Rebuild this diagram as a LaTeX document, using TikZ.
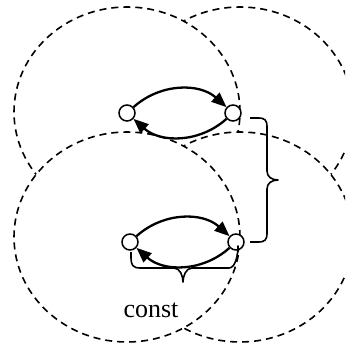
\documentclass[tikz,border=0pt]{standalone}
\usepackage{fontspec}
\setmainfont{Liberation Serif}
\usetikzlibrary{arrows.meta}
\begin{document}
\begin{tikzpicture}[x=1pt,y=-1pt,
  zone/.style={draw=black,fill=white,line width=1.6pt,dash pattern=on 7pt off 5pt},
  site/.style={circle,draw=black,fill=white,line width=1.5pt,minimum size=16pt,inner sep=0pt},
  flow/.style={line width=2.3pt,-{Triangle[length=15pt,width=12pt]}},
  curly/.style={line width=1.6pt,line join=round}]
\useasboundingbox (0,0) rectangle (345,347);
\clip (0,0) rectangle (345,347);
% overlapping dashed regions, back to front
\draw[zone] (240,112) ellipse [x radius=113pt, y radius=105pt];
\draw[zone] (127,112) ellipse [x radius=113pt, y radius=105pt];
\draw[zone] (240,237) ellipse [x radius=113pt, y radius=105pt];
\draw[zone] (127,237) ellipse [x radius=113pt, y radius=105pt];
% the two pairs of sites
\node[site] (tl) at (127,113) {};
\node[site] (tr) at (233,113) {};
\node[site] (bl) at (130,242) {};
\node[site] (br) at (236,242) {};
\draw[flow] (tl) to[bend left=42] (tr);
\draw[flow] (tr) to[bend left=42] (tl);
\draw[flow] (bl) to[bend left=42] (br);
\draw[flow] (br) to[bend left=42] (bl);
% right brace joining the two pairs
\coordinate (r1) at (250,118);
\coordinate (r2) at (250,242);
\coordinate (rt) at (278,180);
\draw[curly] (r1) -- ++(8,0) .. controls +(7,0) and +(0,-7) .. ++(9,9)
  -- (267,171) .. controls +(0,6) and +(-6,0) .. (rt)
  .. controls +(-6,0) and +(0,-6) .. (267,189)
  -- (267,233) .. controls +(0,7) and +(7,0) .. ([xshift=8pt]r2) -- (r2);
% lower brace under one pair
\coordinate (u1) at (131,252);
\coordinate (u2) at (238,252);
\coordinate (ut) at (183,282);
\draw[curly] (u1) -- ++(0,6) .. controls +(0,7) and +(-7,0) .. ++(9,10)
  -- (174,268) .. controls +(6,0) and +(0,-6) .. (ut)
  .. controls +(0,-6) and +(-6,0) .. (192,268)
  -- (229,268) .. controls +(7,0) and +(0,7) .. ([yshift=6pt]u2) -- (u2);
\node[anchor=base,inner sep=0pt,font=\fontsize{26}{30}\selectfont] (lbl) at (151,317) {const};
\end{tikzpicture}
\end{document}
